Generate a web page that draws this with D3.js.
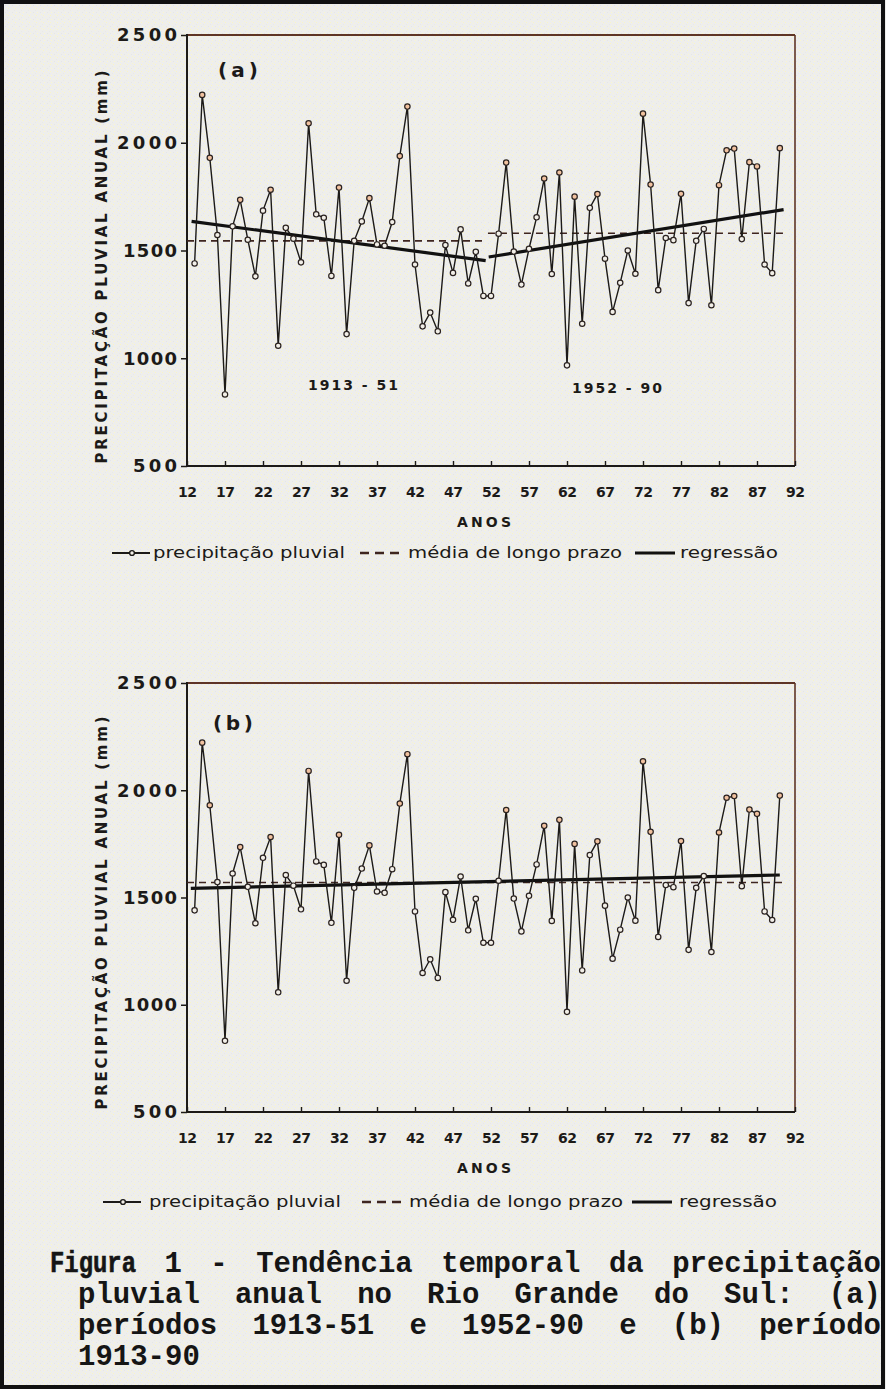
<!DOCTYPE html>
<html><head><meta charset="utf-8">
<script src="https://cdn.jsdelivr.net/npm/d3@7"></script>
<style>body{margin:0;background:#efeee9;} svg{display:block}</style>
</head><body>
<svg id="c" width="886" height="1389"></svg>
<script>
// ---------- DATA ----------
const years = [1913,1914,1915,1916,1917,1918,1919,1920,1921,1922,1923,1924,1925,1926,1927,1928,1929,1930,
  1931,1932,1933,1934,1935,1936,1937,1938,1939,1940,1941,1942,1943,1944,1945,1946,1947,1948,1949,1950,1951,
  1952,1953,1954,1955,1956,1957,1958,1959,1960,1961,1962,1963,1964,1965,1966,1967,1968,1969,1970,
  1971,1972,1973,1974,1975,1976,1977,1978,1979,1980,1981,1982,1983,1984,1985,1986,1987,1988,1989,1990];
const precip = [1440,2222,1930,1572,832,1612,1735,1550,1380,1685,1782,1058,1605,1555,1445,2090,1668,1652,
  1382,1792,1112,1545,1635,1743,1528,1522,1632,1938,2168,1435,1148,1212,1125,1525,1396,1598,1347,1494,1289,
  1289,1578,1908,1495,1342,1508,1654,1834,1391,1862,967,1750,1160,1698,1762,1462,1215,1350,1500,
  1392,2135,1806,1316,1558,1548,1763,1256,1545,1600,1246,1803,1965,1973,1553,1910,1890,1435,1395,1975];
// panel (a): two periods
const periodA1 = [1913, 1951];
const periodA2 = [1952, 1990];
const meanA1 = 1545, meanA2 = 1580;
const regA1 = [1635, 1453];   // regression value at start / end of period 1
const regA2 = [1470, 1690];   // regression value at start / end of period 2
// panel (b): whole period
const periodB = [1913, 1990];
const meanB = 1570;
const regB = [1543, 1605];
const yTicks = [500, 1000, 1500, 2000, 2500];
const xTicks = [1912,1917,1922,1927,1932,1937,1942,1947,1952,1957,1962,1967,1972,1977,1982,1987,1992];
const yTitle = "PRECIPITAÇÃO PLUVIAL ANUAL (mm)";
const xTitle = "ANOS";
const legendLabels = ["precipitação pluvial", "média de longo prazo", "regressão"];
const captionLines = [
  "Figura 1 - Tendência temporal da precipitação",
  "pluvial anual no Rio Grande do Sul: (a)",
  "períodos 1913-51 e 1952-90 e (b) período",
  "1913-90"
];

// ---------- DRAW ----------
const svg = d3.select('#c');
const defs = svg.append('defs');
const pat = defs.append('pattern').attr('id','noise').attr('width',7).attr('height',7).attr('patternUnits','userSpaceOnUse');
pat.append('rect').attr('width',7).attr('height',7).attr('fill','#eeeeec');
[[1,1,'#faf5c4'],[4,2,'#f6f3d8'],[2,5,'#fbf7cc'],[5,5,'#e6e6e6'],[6,0,'#f8f4d0'],[0,3,'#e9e9e7']].forEach(([px,py,c])=>{
  pat.append('rect').attr('x',px).attr('y',py).attr('width',1).attr('height',1).attr('fill',c);
});
svg.append('rect').attr('width',886).attr('height',1389).attr('fill','url(#noise)');
svg.append('rect').attr('x',2).attr('y',2).attr('width',881).attr('height',1385)
  .attr('fill','none').attr('stroke','#111').attr('stroke-width',4);

const FONT = "'DejaVu Sans', Verdana, sans-serif";
const L = 187, R = 795;
const INK = '#1c1a18', FRAME = '#5e3426', DASH = '#3e2520';

function panel(cfg) {
  const g = svg.append('g');
  const x = d3.scaleLinear().domain([1912, 1992]).range([L, R]);
  const y = d3.scaleLinear().domain([500, 2500]).range([cfg.bottom, cfg.top]);

  // frame
  g.append('line').attr('x1',L).attr('x2',R).attr('y1',cfg.top).attr('y2',cfg.top).attr('stroke',FRAME).attr('stroke-width',2);
  g.append('line').attr('x1',R).attr('x2',R).attr('y1',cfg.top).attr('y2',cfg.bottom).attr('stroke',FRAME).attr('stroke-width',1.6);
  g.append('line').attr('x1',L).attr('x2',L).attr('y1',cfg.top-1).attr('y2',cfg.bottom+1).attr('stroke',INK).attr('stroke-width',2);
  g.append('line').attr('x1',L).attr('x2',R).attr('y1',cfg.bottom).attr('y2',cfg.bottom).attr('stroke',INK).attr('stroke-width',2);

  // y axis
  const ya = g.append('g').attr('transform',`translate(${L},0)`)
    .call(d3.axisLeft(y).tickValues(yTicks).tickSize(6).tickPadding(4).tickFormat(d => String(d)));
  ya.select('.domain').remove();
  ya.selectAll('line').attr('stroke',INK).attr('stroke-width',1.5);
  ya.selectAll('text').attr('font-family',FONT).attr('font-weight','bold').attr('font-size',18)
    .attr('fill',INK).attr('textLength', d => d >= 2000 ? 60 : (d >= 1000 ? 54 : 44)).attr('lengthAdjust','spacing');

  // x axis
  const xa = g.append('g').attr('transform',`translate(0,${cfg.bottom})`)
    .call(d3.axisBottom(x).tickValues(xTicks).tickSize(-5).tickPadding(21).tickFormat(d => String(d).slice(2)));
  xa.select('.domain').remove();
  xa.selectAll('line').attr('stroke',INK).attr('stroke-width',1.4);
  xa.selectAll('text').attr('font-family',FONT).attr('font-weight','bold').attr('font-size',14)
    .attr('fill',INK).attr('textLength',19).attr('lengthAdjust','spacing');

  // titles
  g.append('text').attr('transform',`translate(107,${cfg.titleY}) rotate(-90)`).attr('text-anchor','middle')
    .attr('font-family',FONT).attr('font-weight','bold').attr('font-size',15).attr('fill',INK)
    .attr('textLength',393).attr('lengthAdjust','spacing').text(yTitle);
  g.append('text').attr('x',484).attr('y',cfg.bottom+61).attr('text-anchor','middle')
    .attr('font-family',FONT).attr('font-weight','bold').attr('font-size',14).attr('fill',INK)
    .attr('textLength',54).attr('lengthAdjust','spacing').text(xTitle);
  g.append('text').attr('x',cfg.tagX).attr('y',cfg.tagY).attr('font-family',FONT).attr('font-size',20)
    .attr('font-weight',600).attr('fill',INK).attr('textLength',40).attr('lengthAdjust','spacing').text(cfg.tag);

  // means & regressions
  cfg.means.forEach(m => {
    g.append('line').attr('x1',x(m.x[0])).attr('x2',x(m.x[1])).attr('y1',y(m.v)).attr('y2',y(m.v))
      .attr('stroke',DASH).attr('stroke-width',1.7).attr('stroke-dasharray','7,5');
  });
  cfg.regs.forEach(r => {
    g.append('line').attr('x1',x(r.x[0])).attr('x2',x(r.x[1])).attr('y1',y(r.v[0])).attr('y2',y(r.v[1]))
      .attr('stroke','#111').attr('stroke-width',3.2);
  });

  // data series
  const pts = years.map((yr, i) => [yr, precip[i]]);
  g.append('path').datum(pts).attr('fill','none').attr('stroke',INK).attr('stroke-width',1.4)
    .attr('d', d3.line().x(d => x(d[0])).y(d => y(d[1])));
  g.selectAll('circle.p').data(pts).join('circle').attr('class','p')
    .attr('cx', d => x(d[0])).attr('cy', d => y(d[1])).attr('r', 2.7)
    .attr('fill', d => d[1] > 1700 ? '#f1c2a0' : '#f2efe8').attr('stroke','#2a2220').attr('stroke-width',1.2);

  // period labels
  (cfg.labels || []).forEach(lb => {
    g.append('text').attr('x',lb.x).attr('y',lb.y).attr('font-family',FONT).attr('font-weight','bold')
      .attr('font-size',14).attr('fill',INK).attr('textLength',90).attr('lengthAdjust','spacing').text(lb.t);
  });

  // legend
  const ly = cfg.legendY, lx = cfg.legendX;
  g.append('line').attr('x1',lx[0]).attr('x2',lx[0]+38).attr('y1',ly).attr('y2',ly).attr('stroke',INK).attr('stroke-width',2.2);
  g.append('circle').attr('cx',lx[0]+20).attr('cy',ly).attr('r',2.4).attr('fill','#f2efe8').attr('stroke',INK).attr('stroke-width',1.4);
  g.append('line').attr('x1',lx[1]).attr('x2',lx[1]+40).attr('y1',ly).attr('y2',ly).attr('stroke',DASH).attr('stroke-width',2.4).attr('stroke-dasharray','9,6');
  g.append('line').attr('x1',lx[2]).attr('x2',lx[2]+40).attr('y1',ly).attr('y2',ly).attr('stroke','#111').attr('stroke-width',2.8);
  const tl = [192, 214, 98];
  legendLabels.forEach((t, i) => {
    g.append('text').attr('x', lx[i] + cfg.gap[i]).attr('y', ly + 5).attr('font-family',FONT)
      .attr('font-size',15).attr('font-weight',500).attr('fill',INK).attr('textLength',tl[i]).attr('lengthAdjust','spacingAndGlyphs').text(t);
  });
}

panel({
  top: 35, bottom: 466, titleY: 267, tag: '(a)', tagX: 218, tagY: 77,
  means: [{x:[1912, 1951.4], v: meanA1}, {x:[1951.6, 1990.6], v: meanA2}],
  regs: [{x:[periodA1[0]-0.4, periodA1[1]+0.3], v: regA1}, {x:[periodA2[0]-0.3, periodA2[1]+0.5], v: regA2}],
  labels: [{t:'1913 - 51', x:308, y:390}, {t:'1952 - 90', x:572, y:393}],
  legendY: 553, legendX: [112, 360, 635], gap: [41, 48, 45]
});
panel({
  top: 683, bottom: 1112, titleY: 913, tag: '(b)', tagX: 213, tagY: 730,
  means: [{x:[1912, 1990.6], v: meanB}],
  regs: [{x:[periodB[0]-0.5, periodB[1]], v: regB}],
  labels: [],
  legendY: 1202, legendX: [103, 362, 632], gap: [46, 47, 47]
});

// caption (justified monospace)
const CAP = "'Liberation Mono', 'Courier New', monospace";
function capLine(text, x0, x1, y, justify, size, firstLen) {
  const words = text.split(' ');
  const nodes = words.map((w, i) => {
    const t = svg.append('text').attr('y', y).attr('font-family', CAP).attr('font-weight','bold')
      .attr('font-size', size).attr('fill', '#151515').text(w);
    if (i === 0 && firstLen) t.attr('textLength', firstLen).attr('lengthAdjust','spacingAndGlyphs').attr('stroke','#151515').attr('stroke-width',0.6);
    return t;
  });
  const widths = nodes.map((n, i) => (i === 0 && firstLen) ? firstLen : n.node().getComputedTextLength());
  const total = d3.sum(widths);
  const gap = justify && words.length > 1 ? (x1 - x0 - total) / (words.length - 1) : size * 0.6;
  let cx = x0;
  nodes.forEach((n, i) => { n.attr('x', cx); cx += widths[i] + gap; });
}
capLine(captionLines[0], 50, 881, 1272, true, 29, 86);
capLine(captionLines[1], 78, 881, 1303, true, 29);
capLine(captionLines[2], 78, 881, 1334, true, 29);
capLine(captionLines[3], 78, 881, 1365, false, 29);
</script>
</body></html>
